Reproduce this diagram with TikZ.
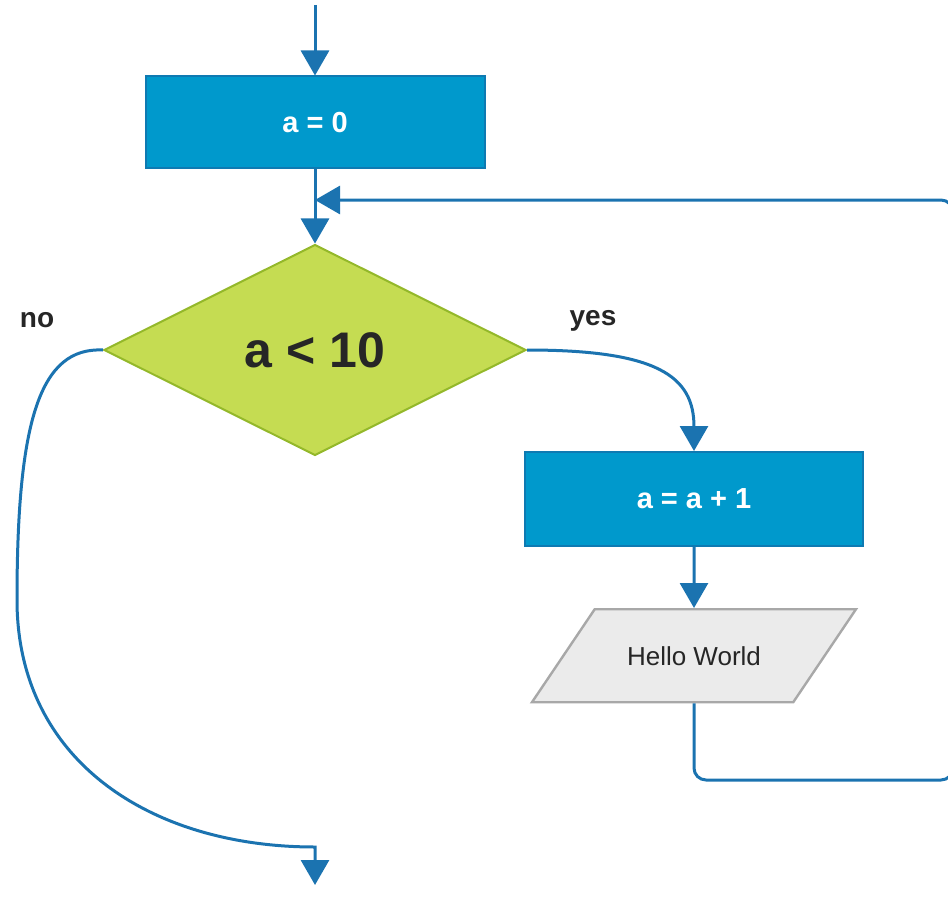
\documentclass[tikz,border=0pt]{standalone}
\usepackage{fontspec}
\setmainfont{Liberation Sans}
\usetikzlibrary{arrows.meta,positioning,shapes.geometric}
\definecolor{flowblue}{RGB}{27,115,176}
\definecolor{boxblue}{RGB}{0,153,204}
\definecolor{boxline}{RGB}{14,122,178}
\definecolor{lime}{RGB}{197,220,82}
\definecolor{limeline}{RGB}{148,184,42}
\definecolor{paper}{RGB}{235,235,235}
\definecolor{paperline}{RGB}{168,168,168}
\definecolor{ink}{RGB}{38,38,38}
\tikzset{
  flow/.style={-{Triangle[length=12.5pt,width=14pt]},line width=1.5pt,draw=flowblue},
  procbox/.style={rectangle,draw=boxline,line width=1pt,fill=boxblue,text=white,
              font=\fontsize{14.5}{16}\selectfont\bfseries,minimum width=169.5pt,minimum height=46pt},
  testbox/.style={diamond,draw=limeline,line width=1pt,fill=lime,text=ink,inner sep=0pt,
              font=\fontsize{25}{28}\selectfont\bfseries,minimum width=211pt,minimum height=105.5pt},
  iobox/.style={trapezium,trapezium left angle=56,trapezium right angle=124,
              trapezium stretches body,draw=paperline,line width=1.2pt,fill=paper,text=ink,
              font=\fontsize{13}{15}\selectfont,minimum width=162pt,
              text height=9.5pt,text depth=0pt,inner ysep=18.5pt},
  branch/.style={text=ink,font=\fontsize{14}{16}\selectfont\bfseries}
}
\begin{document}
\begin{tikzpicture}[x=0.5pt,y=-0.5pt,node distance=37pt]
  \useasboundingbox (0,0) rectangle (948,915);
  \node[procbox] (init) at (315,122.5) {a = 0};
  \node[testbox,below=of init] (test) {a < 10};
  \node[procbox,minimum width=169pt,minimum height=47pt] (incr) at (694,499) {a = a + 1};
  \node[iobox,below=30.5pt of incr] (out) {Hello World};
  \node[branch] (nolbl) at (37,320) {no};
  \node[branch] (yeslbl) at (593,321) {yes};

  \coordinate (start) at (315,5);
  \coordinate (stop) at (315,885);
  \coordinate (join) at (315,200);
  \coordinate (back) at (953,780);

  \draw[flow] (start) -- (init);
  \draw[flow] (init) -- (test);
  \draw[flow] (test.east) .. controls +(130,0) and +(0,-75) .. (incr.north);
  \draw[flow] (incr) -- (out);
  \draw[flow,rounded corners=6pt] (out.south) |- (back) |- (join);
  \draw[flow] (test.west) .. controls (40,347) and (17,420) .. (17,600)
    .. controls (17,760) and (150,847) .. (315,847) -- (stop);
\end{tikzpicture}
\end{document}
